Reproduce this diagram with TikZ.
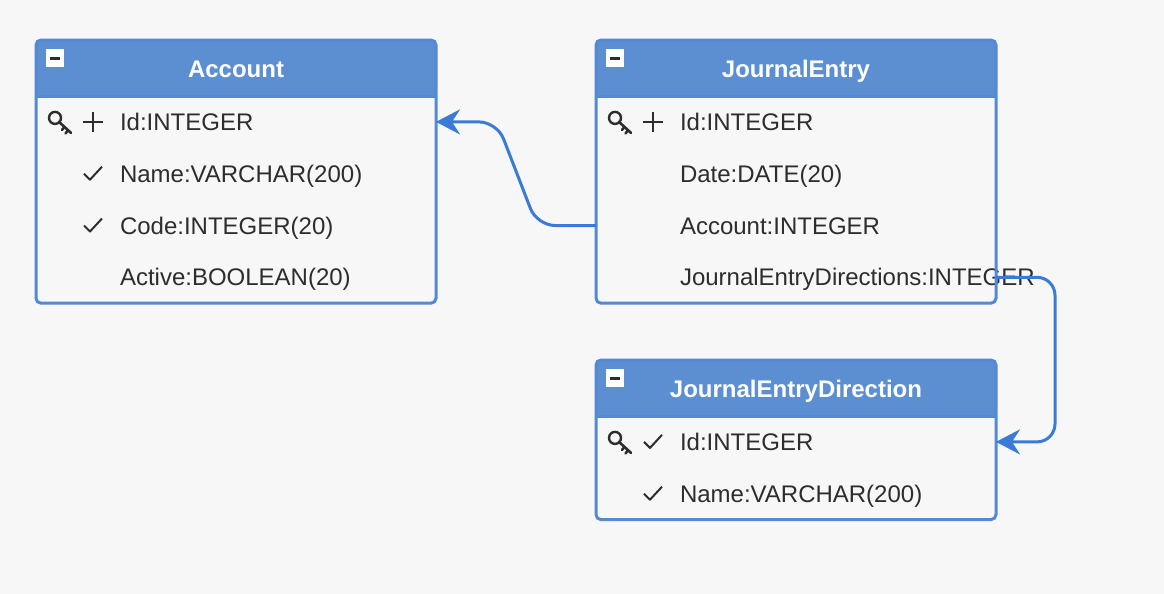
\documentclass[tikz,border=0pt]{standalone}
\usepackage{fontspec}
\setmainfont{Liberation Sans}
\usetikzlibrary{arrows.meta,positioning,calc,backgrounds}
\definecolor{bgcol}{RGB}{247,247,247}
\definecolor{hdcol}{RGB}{92,142,210}
\definecolor{frcol}{RGB}{84,137,212}
\definecolor{lncol}{RGB}{58,124,213}
\definecolor{txcol}{RGB}{45,45,48}
\tikzset{>=Stealth}
\tikzset{
  tblhead/.style={minimum width=200pt,minimum height=28pt,inner sep=0pt,outer sep=0pt,
    text=white,font=\fontsize{12}{14}\selectfont\bfseries,text height=12.6pt,text depth=3pt},
  tblrow/.style={minimum width=200pt,minimum height=25.9pt,inner sep=0pt,outer sep=0pt,
    text=txcol,font=\fontsize{12}{14}\selectfont,text height=11.3pt,text depth=2.7pt},
  frame/.style={draw=frcol,line width=1.5pt,rounded corners=2.5pt},
  conn/.style={draw=lncol,line width=1.5pt,rounded corners=9pt,
    -{Stealth[length=12pt,width=12.5pt,inset=4pt]}},
  keyicon/.pic={
    \draw[txcol,line width=1.2pt] (-5,-4) circle (3pt);
    \draw[txcol,line width=1.3pt,line cap=round,line join=round]
      (-1,0) -- (11,11) (4.5,5) -- (2,8) (8,8.5) -- (5.5,11.5);
  },
  plusicon/.pic={
    \draw[txcol,line width=1pt] (-10,0) -- (10,0) (0,-10) -- (0,10);
  },
  checkicon/.pic={
    \draw[txcol,line width=1pt,line join=round] (-9,0) -- (-3,6) -- (9,-7);
  },
  minusbox/.pic={
    \fill[white] (0,0) rectangle (18,18);
    \draw[txcol,line width=1.5pt] (4,9) -- (14,9);
  }
}
\newcommand{\rowtext}[1]{\makebox[116pt][l]{#1}}

\begin{document}
\begin{tikzpicture}[x=0.5pt,y=-0.5pt]
\useasboundingbox (0,0) rectangle (1164,594);

% Account
\node[tblhead] (acc) at (236,68) {Account};
\node[tblrow,below=0pt of acc] (acc-id) {\rowtext{Id:INTEGER}};
\node[tblrow,below=0pt of acc-id] (acc-name) {\rowtext{Name:VARCHAR(200)}};
\node[tblrow,below=0pt of acc-name] (acc-code) {\rowtext{Code:INTEGER(20)}};
\node[tblrow,below=0pt of acc-code] (acc-active) {\rowtext{Active:BOOLEAN(20)}};
\pic at ($(acc-id.west)+(24,0)$) {keyicon};
\pic at ($(acc-id.west)+(57,0)$) {plusicon};
\pic at ($(acc-name.west)+(57,0)$) {checkicon};
\pic at ($(acc-code.west)+(57,0)$) {checkicon};

% JournalEntry
\node[tblhead] (je) at (796,68) {JournalEntry};
\node[tblrow,below=0pt of je] (je-id) {\rowtext{Id:INTEGER}};
\node[tblrow,below=0pt of je-id] (je-date) {\rowtext{Date:DATE(20)}};
\node[tblrow,below=0pt of je-date] (je-account) {\rowtext{Account:INTEGER}};
\node[tblrow,below=0pt of je-account] (je-dirs) {\rowtext{JournalEntryDirections:INTEGER}};
\pic at ($(je-id.west)+(24,0)$) {keyicon};
\pic at ($(je-id.west)+(57,0)$) {plusicon};

% JournalEntryDirection
\node[tblhead] (jed) at (796,388) {JournalEntryDirection};
\node[tblrow,below=0pt of jed] (jed-id) {\rowtext{Id:INTEGER}};
\node[tblrow,below=0pt of jed-id] (jed-name) {\rowtext{Name:VARCHAR(200)}};
\pic at ($(jed-id.west)+(24,0)$) {keyicon};
\pic at ($(jed-id.west)+(57,0)$) {checkicon};
\pic at ($(jed-name.west)+(57,0)$) {checkicon};

\begin{scope}[on background layer]
\fill[bgcol] (0,0) rectangle (1164,594);
\foreach \t in {acc,je,jed}{
  \fill[hdcol,rounded corners=2.5pt] (\t.north west) rectangle (\t.south east);
  \fill[hdcol] (\t.west) rectangle (\t.south east);
}
\end{scope}

% frames
\draw[frame] (acc.north west) rectangle (acc-active.south east);
\draw[frame] (je.north west) rectangle (je-dirs.south east);
\draw[frame] (jed.north west) rectangle (jed-name.south east);
\foreach \t in {acc,je,jed}{
  \draw[frcol,line width=1.5pt] (\t.south west) -- (\t.south east);
  \pic at ($(\t.north west)+(10,9)$) {minusbox};
}

% links
\draw[conn] (je-account.west) -- ++(-59,0) -- ($(acc-id.east)+(61,0)$) -- (acc-id.east);
\draw[conn] (je-dirs.east) -- ++(59,0) -- ($(jed-id.east)+(59,0)$) -- (jed-id.east);
\end{tikzpicture}
\end{document}
